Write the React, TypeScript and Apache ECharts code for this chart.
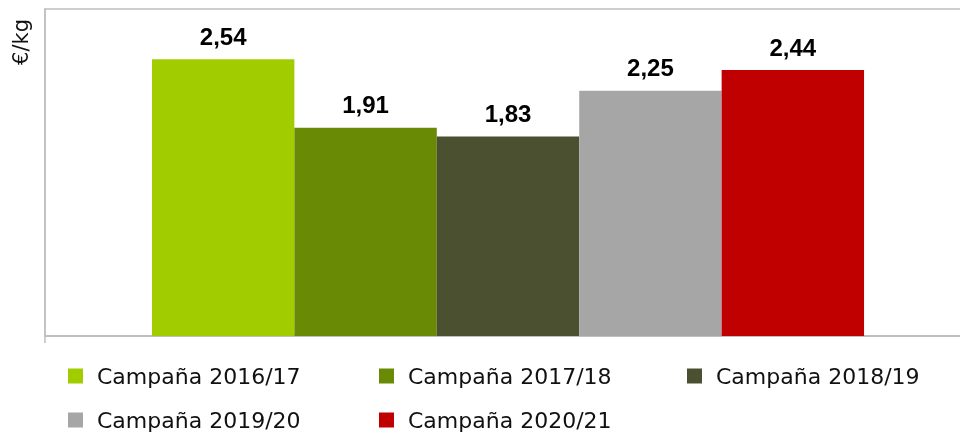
import React, { useEffect, useRef } from "react";
import * as echarts from "echarts";

const categories = ["Precio"];
const seriesNames = [
  "Campaña 2016/17",
  "Campaña 2017/18",
  "Campaña 2018/19",
  "Campaña 2019/20",
  "Campaña 2020/21",
];
const seriesValues = [2.54, 1.91, 1.83, 2.25, 2.44];
const seriesColors = ["#a1cd00", "#688a04", "#4a5030", "#a6a6a6", "#c00000"];
const yUnit = "€/kg";

const legendPos = [
  { left: 68, top: 365 },
  { left: 379, top: 365 },
  { left: 687, top: 365 },
  { left: 68, top: 409 },
  { left: 379, top: 409 },
];

export default function App() {
  const ref = useRef<HTMLDivElement>(null);
  useEffect(() => {
    if (!ref.current) return;
    const chart = echarts.init(ref.current, null, { renderer: "svg" });
    chart.setOption({
      animation: false,
      grid: {
        left: 45,
        top: 9,
        bottom: 100,
        width: 926,
        show: true,
        borderColor: "#bfbfbf",
        borderWidth: 1.5,
        containLabel: false,
        outerBoundsMode: "none",
      },
      xAxis: {
        type: "category",
        data: categories,
        axisLine: { show: true, lineStyle: { color: "#bfbfbf", width: 2 } },
        axisTick: { show: true, length: 7, lineStyle: { color: "#bfbfbf", width: 1.5 } },
        axisLabel: { show: false },
      },
      yAxis: {
        type: "value",
        min: 0,
        max: 3,
        axisLine: { show: true, lineStyle: { color: "#bfbfbf", width: 1.5 } },
        axisTick: { show: false },
        axisLabel: { show: false },
        splitLine: { show: false },
      },
      legend: seriesNames.map((n, i) => ({
        data: [n],
        left: legendPos[i].left,
        top: legendPos[i].top,
        padding: 0,
        icon: "rect",
        itemWidth: 15,
        itemHeight: 15,
        textStyle: {
          fontFamily: "DejaVu Sans",
          fontSize: 22,
          color: "#111",
          padding: [0, 0, 0, 9],
        },
      })),
      graphic: [
        {
          type: "text",
          x: 21,
          y: 42,
          rotation: Math.PI / 2,
          style: {
            text: yUnit,
            fontFamily: "DejaVu Sans",
            fontSize: 21,
            fill: "#111",
            textAlign: "center",
            textVerticalAlign: "middle",
          },
        },
      ],
      series: seriesNames.map((n, i) => ({
        name: n,
        type: "bar",
        data: [seriesValues[i]],
        barGap: "0%",
        barCategoryGap: "23.1%",
        itemStyle: { color: seriesColors[i] },
        label: {
          show: true,
          position: "top",
          distance: 11,
          fontFamily: "Liberation Sans",
          fontWeight: "bold",
          fontSize: 24,
          color: "#000",
          formatter: (p: any) => Number(p.value).toFixed(2).replace(".", ","),
        },
      })),
    });
    return () => chart.dispose();
  }, []);
  return (
    <div
      ref={ref}
      style={{ position: "fixed", left: 0, top: 0, width: 960, height: 436 }}
    />
  );
}
